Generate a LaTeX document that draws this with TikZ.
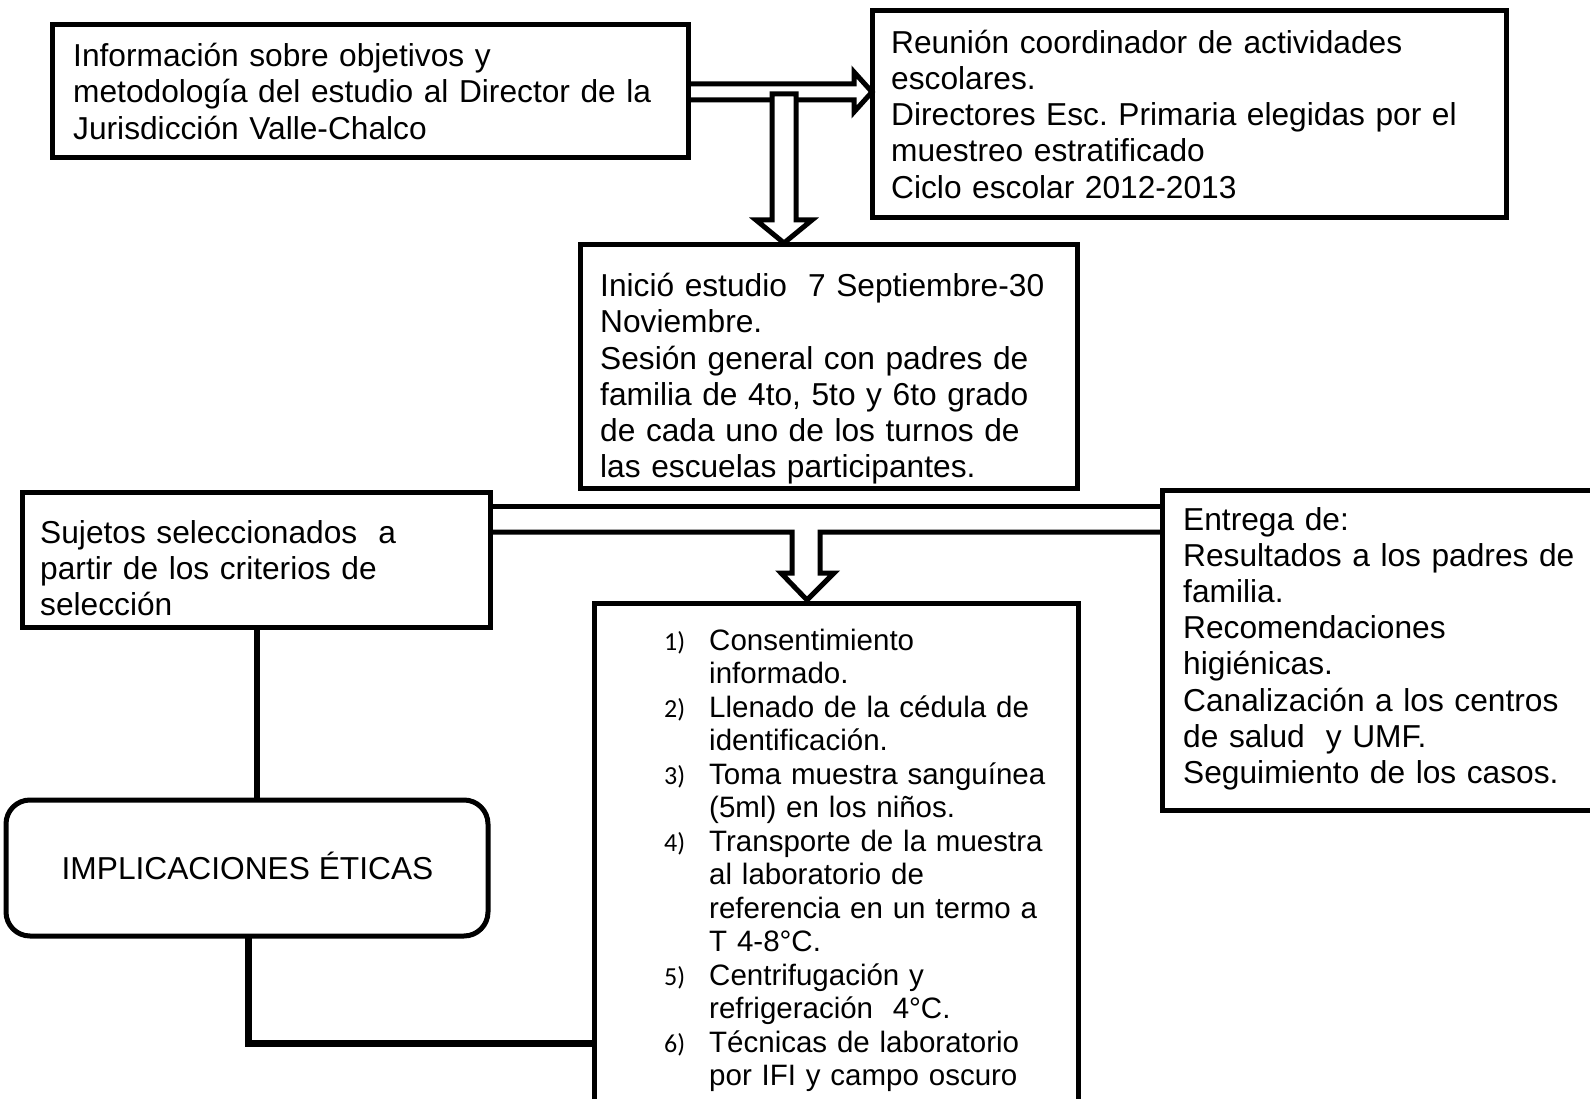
\documentclass[tikz,border=0pt]{standalone}
\usepackage{fontspec}
\setmainfont{Liberation Sans}
\newfontfamily\numfont{Carlito}
\usetikzlibrary{calc}
\newcommand\mainsz{\fontsize{31.7}{36.2}\selectfont\frenchspacing}
\newcommand\listsz{\fontsize{29.5}{33.5}\selectfont\frenchspacing}
\newcommand\numit[1]{\leavevmode\llap{\makebox[45pt][l]{\numfont\fontsize{26}{33.5}\selectfont #1}}}
\tikzset{
  box/.style={draw, line width=5pt, outer sep=0pt, inner sep=0pt, anchor=north west, fill=white},
  txt/.style={anchor=base west, inner sep=0pt, align=left, text width=700pt, font=\mainsz},
  lst/.style={anchor=base west, inner sep=0pt, align=left, text width=700pt, font=\listsz},
  arr/.style={draw, line width=5pt, line join=miter},
  conn/.style={draw, line width=6pt},
  conn2/.style={draw, line width=7pt, line join=miter},
}
\begin{document}
\begin{tikzpicture}[x=1pt,y=-1pt]
\useasboundingbox (0,0) rectangle (1590,1099);
\clip (0,0) rectangle (1590,1099);

% boxes
\node[box, minimum width=636pt, minimum height=133pt] (b1) at (52,25) {};
\node[box, minimum width=634pt, minimum height=207pt] (b2) at (872,11) {};
\node[box, minimum width=497pt, minimum height=243pt] (b3) at (580,245) {};
\node[box, minimum width=468pt, minimum height=135pt] (b4) at (22,492) {};
\node[box, minimum width=460pt, minimum height=320pt] (b5) at (1162,490) {};
\node[box, rounded corners=24pt, minimum width=482pt, minimum height=136pt] (b6) at (6,800) {};
\node[box, minimum width=484pt, minimum height=520pt] (b7) at (594,603) {};

% top horizontal hollow arrow b1 -> b2
\draw[arr] ($(b1.north east)+(0,59)$) -- (854,84) -- (854,72) -- ($(b2.north west)+(0,81)$)
  -- (854,112) -- (854,100) -- ($(b1.north east)+(0,75)$);

% vertical hollow arrow to b3
\draw[arr, fill=white] (772,94) -- (796,94) -- (796,220) -- (812,220)
  -- ($(b3.north west)+(204,-2)$) -- (756,220) -- (772,220) -- cycle;

% bottom double line with hollow arrow to b7
\draw[arr] ($(b4.north east)+(0,14)$) -- ($(b5.north west)+(0,16)$);
\draw[arr] ($(b4.north east)+(0,40)$) -- (792,532) -- (792,573) -- (781,573)
  -- ($(b7.north west)+(213,-3)$) -- (834,573) -- (820,573) -- (820,532)
  -- ($(b5.north west)+(0,42)$);

% connectors on the left
\draw[conn] ($(b4.south west)+(235,0)$) -- ($(b6.north west)+(251,0)$);
\draw[conn2] ($(b6.south west)+(242,0)$) |- ($(b7.north west)+(0,440)$);

% texts
\node[txt] (t1) at (73,66.7) {Información sobre objetivos y\\metodología del estudio al Director de la\\Jurisdicción Valle-Chalco};
\node[txt] (t2) at (891,53.3) {Reunión coordinador de actividades\\escolares.\\Directores Esc. Primaria elegidas por el\\muestreo estratificado\\Ciclo escolar 2012-2013};
\node[txt] (t3) at (600,296.7) {Inició estudio\ \ 7 Septiembre-30\\Noviembre.\\Sesión general con padres de\\familia de 4to, 5to y 6to grado\\de cada uno de los turnos de\\las escuelas participantes.};
\node[txt] (t4) at (40,543) {Sujetos seleccionados\ \ a\\partir de los criterios de\\selección};
\node[txt] (t5) at (1183,530) {Entrega de:\\Resultados a los padres de\\familia.\\Recomendaciones\\higiénicas.\\Canalización a los centros\\de salud\ \ y UMF.\\Seguimiento de los casos.};
\node[font=\mainsz, anchor=base, inner sep=0pt] (t6) at (247.5,879) {IMPLICACIONES ÉTICAS};
\node[lst] (t7) at (709,650) {\numit{1)}Consentimiento\\informado.\\\numit{2)}Llenado de la cédula de\\identificación.\\\numit{3)}Toma muestra sanguínea\\(5ml) en los niños.\\\numit{4)}Transporte de la muestra\\al laboratorio de\\referencia en un termo a\\T 4-8°C.\\\numit{5)}Centrifugación y\\refrigeración\ \ 4°C.\\\numit{6)}Técnicas de laboratorio\\por IFI y campo oscuro};
\end{tikzpicture}
\end{document}
